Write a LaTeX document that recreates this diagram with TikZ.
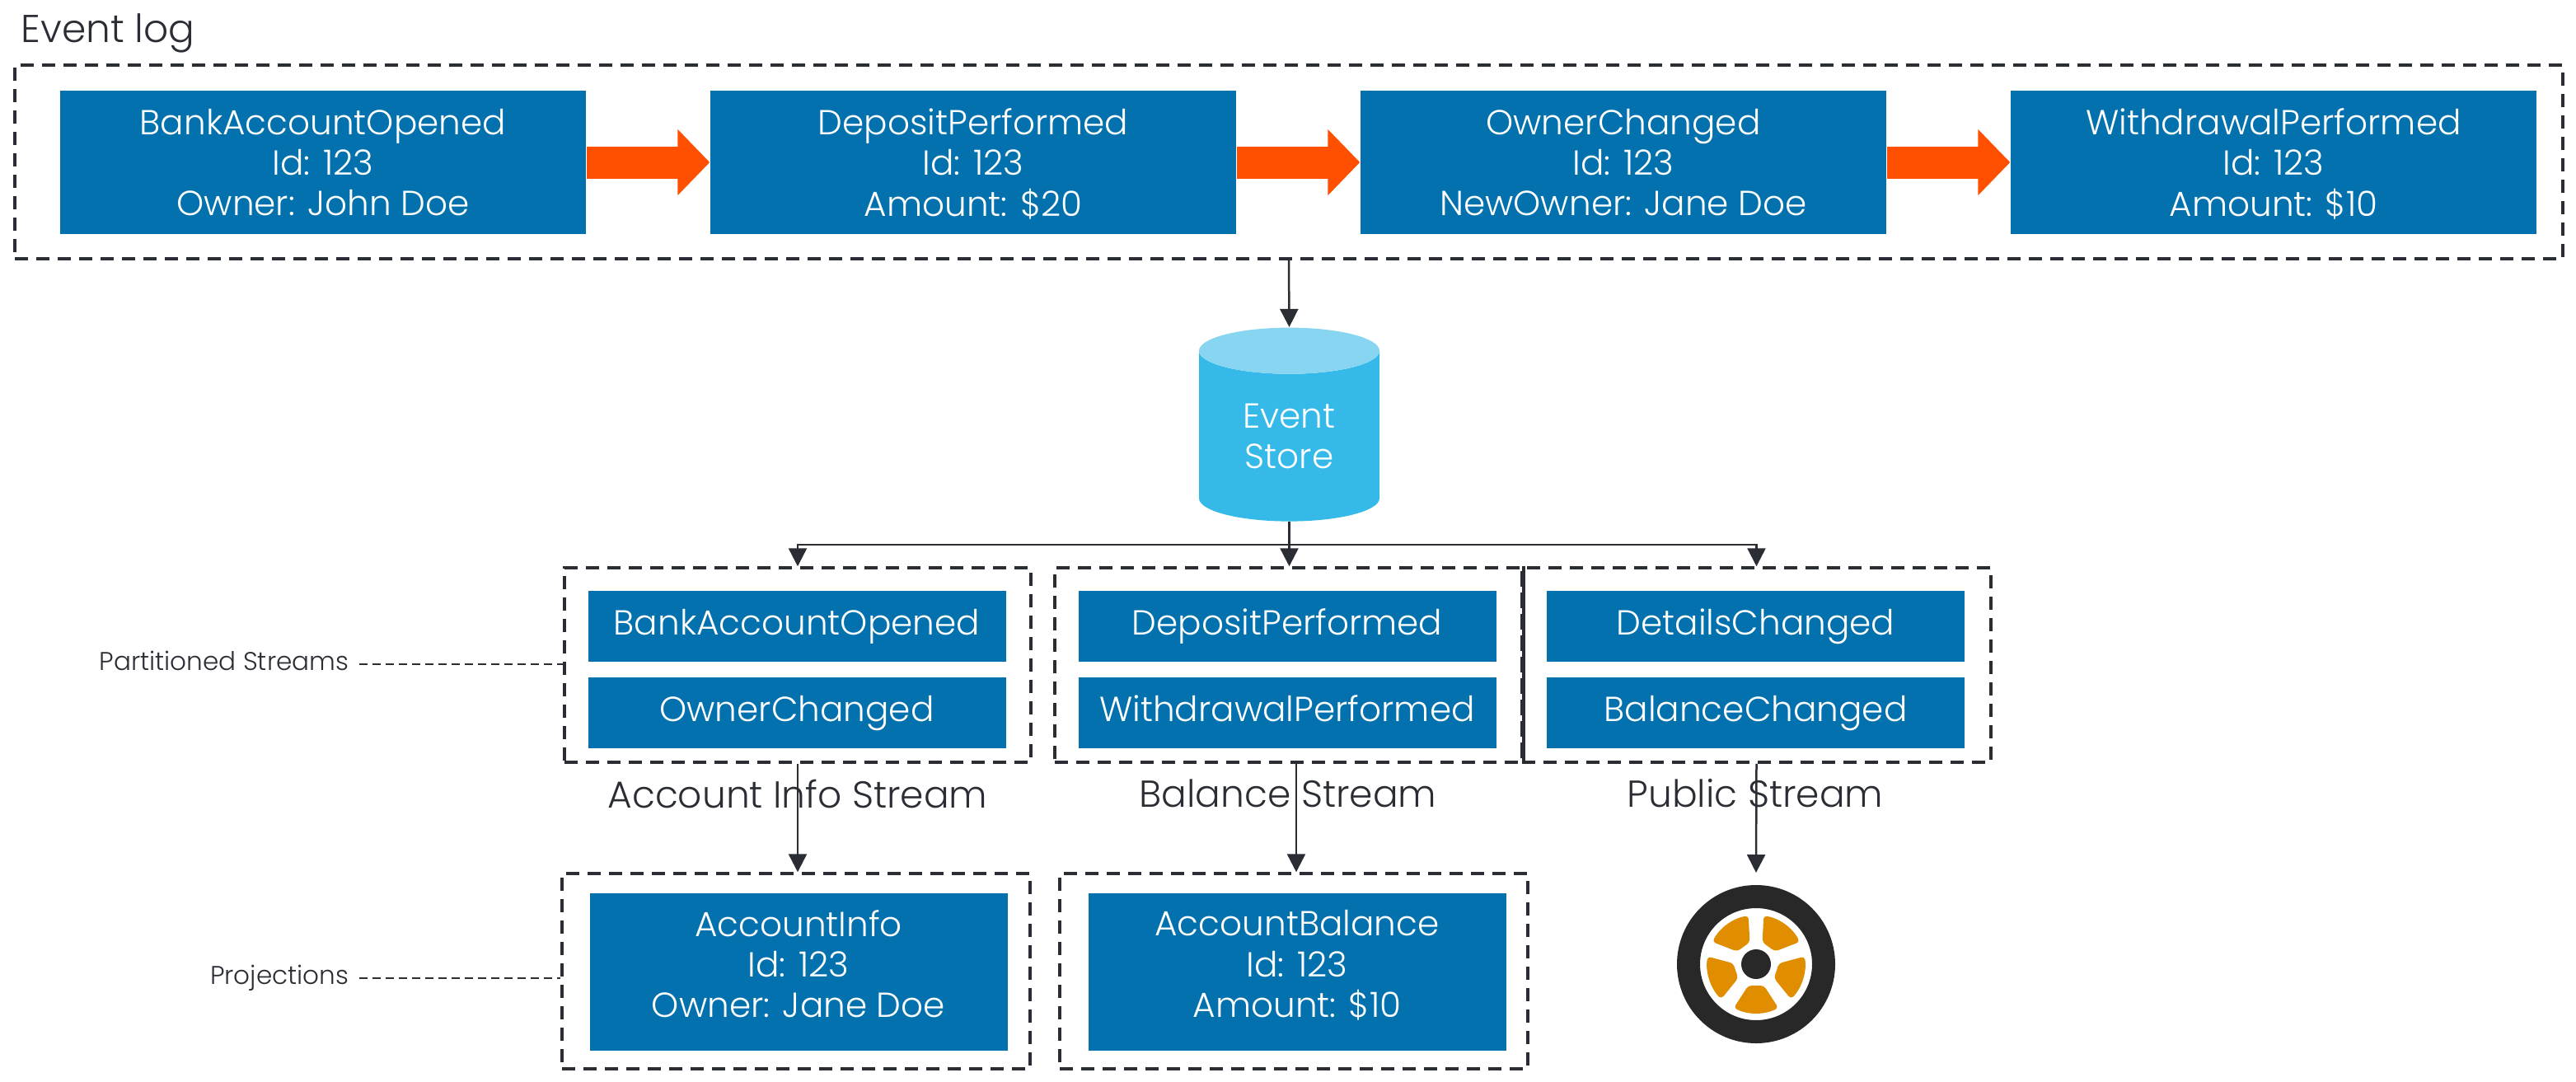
\documentclass[tikz,border=0pt]{standalone}
\usepackage{fontspec}
\setmainfont{Poppins Light}
\usetikzlibrary{shapes.geometric,arrows.meta,positioning}
\definecolor{evblue}{HTML}{0271AD}
\definecolor{arrowred}{HTML}{FF4F00}
\definecolor{inkdark}{HTML}{2A2D34}
\definecolor{storebody}{HTML}{34B9E8}
\definecolor{storetop}{HTML}{87D5F1}
\definecolor{rimorange}{HTML}{E08E00}
\definecolor{tyredark}{HTML}{282828}
\tikzset{
    evtext/.style={font=\fontsize{12}{14}\selectfont, text=white, align=center, inner sep=0pt},
    evbox/.style={evtext, fill=evblue, minimum width=6.38cm, minimum height=1.74cm, text depth=0cm},
    rowbox/.style={evtext, fill=evblue, minimum width=5.07cm, minimum height=0.86cm, text height=0.30cm, text depth=0.10cm},
    projbox/.style={evtext, fill=evblue, minimum width=5.07cm, minimum height=1.91cm, text depth=0.20cm},
    dashbox/.style={draw=inkdark, line width=0.035cm, dash pattern=on 0.16cm off 0.10cm, inner sep=0pt},
    flow/.style={draw=inkdark, line width=0.025cm, -{Triangle[length=0.22cm,width=0.22cm]}},
    fat/.style={draw=arrowred, line width=0.39cm, -{Triangle[length=0.39cm,width=0.78cm]}},
    sidelabel/.style={font=\fontsize{8.85}{10}\selectfont, text=inkdark, inner sep=0pt, inner xsep=0.12cm, text height=0.24cm, text depth=0.10cm},
    sidedash/.style={draw=inkdark, line width=0.02cm, dash pattern=on 0.10cm off 0.06cm},
    streamlabel/.style={font=\fontsize{12.95}{15}\selectfont, text=inkdark, inner sep=0pt}
}
\begin{document}
\begin{tikzpicture}
    \useasboundingbox (0,0) rectangle (31.26,13.12);

    \node[font=\fontsize{13.4}{15}\selectfont, text=inkdark, anchor=base west, inner sep=0pt] (logtitle) at (0.25,12.60) {Event log};
    \node[dashbox, minimum width=30.92cm, minimum height=2.35cm] (log) at (15.64,11.155) {};

    \node[evbox] (opened) at (3.92,11.15) {BankAccountOpened\\Id: 123\\Owner: John Doe};
    \node[evbox] (deposit) at (11.81,11.15) {DepositPerformed\\Id: 123\\Amount: \$20};
    \node[evbox] (owner) at (19.70,11.15) {OwnerChanged\\Id: 123\\NewOwner: Jane Doe};
    \node[evbox] (withdraw) at (27.59,11.15) {WithdrawalPerformed\\Id: 123\\Amount: \$10};

    \draw[fat] (opened) -- (deposit);
    \draw[fat] (deposit) -- (owner);
    \draw[fat] (owner) -- (withdraw);

    \node[cylinder, shape border rotate=90, aspect=0.5, cylinder uses custom fill, cylinder body fill=storebody, cylinder end fill=storetop, minimum width=2.19cm, minimum height=2.35cm, inner sep=0pt, text=white, align=center, font=\fontsize{12}{14}\selectfont] (store) at (15.645,7.825) {Event\\Store};
    \draw[flow] (log.south) -- (store.north);

    \node[dashbox, minimum width=5.66cm, minimum height=2.36cm] (partA) at (9.68,5.05) {};
    \node[dashbox, minimum width=5.67cm, minimum height=2.36cm] (partB) at (15.635,5.05) {};
    \node[dashbox, minimum width=5.69cm, minimum height=2.36cm] (partC) at (21.315,5.05) {};
    \draw[inkdark, line width=0.035cm] (partB.north east) -- (partB.south east);

    \node[rowbox] (rowA1) at (9.67,5.52) {BankAccountOpened};
    \node[rowbox] (rowA2) at (9.67,4.47) {OwnerChanged};
    \node[rowbox] (rowB1) at (15.62,5.52) {DepositPerformed};
    \node[rowbox] (rowB2) at (15.62,4.47) {WithdrawalPerformed};
    \node[rowbox] (rowC1) at (21.305,5.52) {DetailsChanged};
    \node[rowbox] (rowC2) at (21.305,4.47) {BalanceChanged};

    \coordinate (fork) at (15.645,6.51);
    \draw[flow] (store.south) -- (store.south |- partB.north);
    \draw[flow] (fork) -| (partA.north);
    \draw[flow] (fork) -| (partC.north);

    \node[streamlabel] (labelA) at (9.68,3.49) {Account Info Stream};
    \node[streamlabel] (labelB) at (15.63,3.49) {Balance Stream};
    \node[streamlabel] (labelC) at (21.30,3.49) {Public Stream};

    \node[dashbox, minimum width=5.68cm, minimum height=2.37cm] (projA) at (9.66,1.335) {};
    \node[dashbox, minimum width=5.68cm, minimum height=2.37cm] (projB) at (15.70,1.335) {};
    \node[projbox] (infoA) at (9.69,1.325) {AccountInfo\\Id: 123\\Owner: Jane Doe};
    \node[projbox] (infoB) at (15.74,1.325) {AccountBalance\\Id: 123\\Amount: \$10};

    \draw[flow] (partA.south) -- (partA.south |- projA.north);
    \coordinate (balancedrop) at (15.73,3.87);
    \draw[flow] (balancedrop) -- (balancedrop |- projB.north);

    \node[circle, draw=tyredark, line width=0.28cm, minimum size=1.64cm, outer sep=0.29cm, inner sep=0pt] (wheel) at (21.31,1.42) {};
    \foreach \a in {54,126,198,270,342} {
        \fill[rimorange, rounded corners=0.04cm, shift={(wheel.center)}, rotate=\a-90] (-0.095,0.26) -- (0.095,0.26) -- (0.27,0.53) arc (63:117:0.595) -- cycle;
    }
    \fill[tyredark] (wheel.center) circle (0.18);
    \draw[flow] (partC.south) -- (wheel.north);

    \node[sidelabel, anchor=east] (partlabel) at (4.36,5.06) {Partitioned Streams};
    \node[sidelabel, anchor=east] (projlabel) at (4.36,1.25) {Projections};
    \draw[sidedash] (partlabel.east) -- (partlabel.east -| partA.west);
    \draw[sidedash] (projlabel.east) -- (projlabel.east -| projA.west);
\end{tikzpicture}
\end{document}
